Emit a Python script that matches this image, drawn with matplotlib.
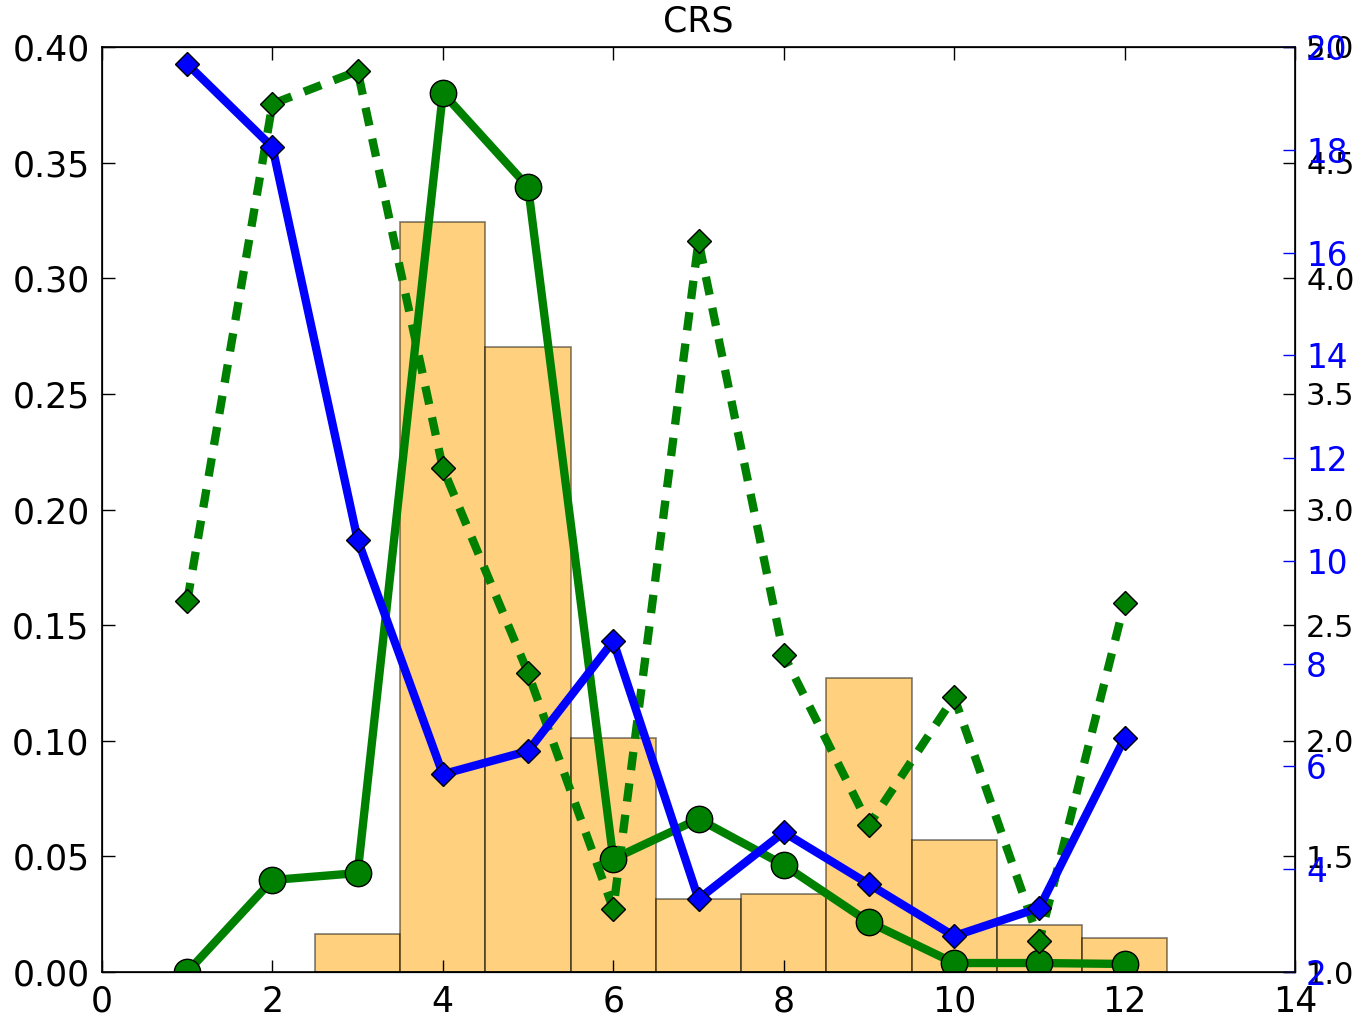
import matplotlib
matplotlib.use("Agg")
import matplotlib.pyplot as plt
import numpy as np

plt.rcParams['font.family'] = ['DejaVu Sans']
plt.rcParams['font.size'] = 25

# distribution per bin (left axis)
bins = [3, 4, 5, 6, 7, 8, 9, 10, 11, 12]
bin_frac = [0.0164, 0.3243, 0.2703, 0.1012, 0.0316, 0.0337, 0.1271, 0.0571, 0.0203, 0.0147]

x = [1, 2, 3, 4, 5, 6, 7, 8, 9, 10, 11, 12]
# share per class (left axis)
share = [0.0, 0.0398, 0.0428, 0.3801, 0.3395, 0.0489, 0.0662, 0.0463, 0.0216, 0.0039, 0.0039, 0.0035]
# ratio (black right axis)
ratio = [2.604, 4.754, 4.896, 3.179, 2.293, 1.272, 4.161, 2.371, 1.636, 2.189, 1.134, 2.596]
# mean (blue right axis)
mean_val = [19.67, 18.05, 10.41, 5.85, 6.30, 8.44, 3.42, 4.72, 3.71, 2.70, 3.25, 6.55]

fig = plt.figure(figsize=(13.55, 10.17), dpi=100)
ax = fig.add_axes([0.0753, 0.0442, 0.8804, 0.9096])

ax.bar(bins, bin_frac, width=1.0, align='center', color='orange', alpha=0.5,
       edgecolor='k', linewidth=1.2)
ax.plot(x, share, color='g', linestyle='-', linewidth=6, marker='o', markersize=19,
        markeredgecolor='k', markeredgewidth=1)
ax.set_xlim(0, 14)
ax.set_ylim(0, 0.40)
ax.set_xticks(np.arange(0, 15, 2))
ax.set_yticks(np.arange(0, 0.401, 0.05))
ax.set_yticklabels(['%.2f' % v for v in np.arange(0, 0.401, 0.05)])
ax.set_title('CRS', fontsize=25, pad=11)
ax.tick_params(direction='in', length=9, width=1, pad=9, top=True, bottom=True)
for s in ax.spines.values():
    s.set_linewidth(1.2)

ax2 = ax.twinx()
ax2.plot(x, ratio, color='g', linestyle='--', dashes=(2.2, 1.6), linewidth=6,
         marker='D', markersize=12, markeredgecolor='k', markeredgewidth=1)
ax2.set_ylim(1.0, 5.0)
ax2.set_yticks(np.arange(1.0, 5.01, 0.5))
ax2.set_yticklabels(['%.1f' % v for v in np.arange(1.0, 5.01, 0.5)])
ax2.tick_params(direction='in', length=9, width=1, pad=8, labelsize=22)

ax3 = ax.twinx()
ax3.plot(x, mean_val, color='b', linestyle='-', linewidth=6, marker='D', markersize=12.5,
         markeredgecolor='k', markeredgewidth=1)
ax3.set_ylim(2, 20)
ax3.set_yticks(np.arange(2, 21, 2))
ax3.tick_params(direction='in', length=9, width=1, pad=8, colors='b', labelsize=23.5)
ax3.spines['right'].set_color('k')

fig.savefig('out.png', dpi=100, facecolor='white')
